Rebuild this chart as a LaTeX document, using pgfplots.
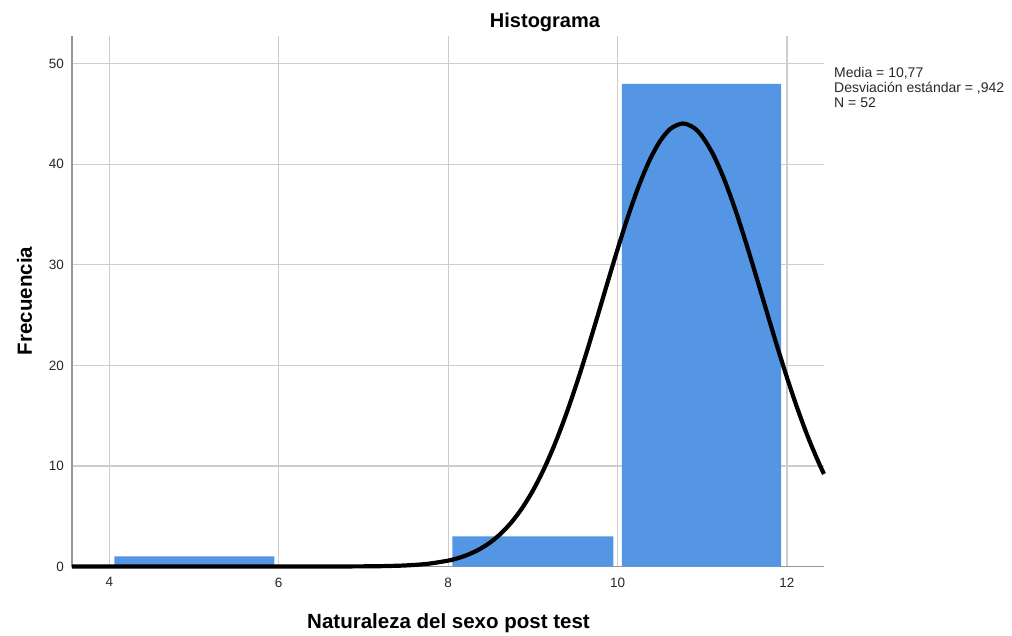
\documentclass[border=0pt]{standalone}
\usepackage{fontspec}
\setmainfont{Liberation Sans}
\usepackage{pgfplots}
\pgfplotsset{compat=1.18}
\definecolor{barblue}{RGB}{84,149,228}
\definecolor{gridgray}{RGB}{205,205,205}
\definecolor{axgray}{RGB}{150,150,150}
\definecolor{txt}{RGB}{40,40,40}
\begin{document}
\begin{tikzpicture}[x=1pt,y=1pt]
\path[use as bounding box] (-72,-68.5) rectangle (940,566.5);
\begin{axis}[
  at={(0,0)}, anchor=south west,
  scale only axis, width=752pt, height=530pt,
  xmin=3.56, xmax=12.437, ymin=0, ymax=52.7,
  axis x line=bottom, axis y line=left,
  axis line style={-, draw=axgray, line width=1.4pt},
  xtick={4,6,8,10,12}, ytick={0,10,20,30,40,50},
  major tick length=0pt,
  grid=major, major grid style={draw=gridgray, line width=1.2pt},
  /pgf/number format/assume math mode=true,
  xticklabel style={font=\fontsize{13.5}{15}\selectfont, text=txt, anchor=north, inner sep=0pt, yshift=-11pt},
  yticklabel style={font=\fontsize{13.5}{15}\selectfont, text=txt, anchor=east, inner sep=0pt, xshift=-8pt},
  clip=false,
]
\addplot[draw=none, fill=barblue] coordinates {(4.06,0) (4.06,1) (5.95,1) (5.95,0)} \closedcycle;
\addplot[draw=none, fill=barblue] coordinates {(8.05,0) (8.05,3) (9.95,3) (9.95,0)} \closedcycle;
\addplot[draw=none, fill=barblue] coordinates {(10.05,0) (10.05,48) (11.93,48) (11.93,0)} \closedcycle;
\addplot[black, line width=4.2pt, smooth, line join=round] coordinates {
(3.56,0) (6,0) (6.5,0.002) (7,0.015) (7.25,0.041) (7.5,0.107) (7.75,0.258)
(8,0.584) (8.125,0.855) (8.25,1.23) (8.375,1.739) (8.5,2.415) (8.625,3.296)
(8.75,4.42) (8.875,5.824) (9,7.539) (9.125,9.589) (9.25,11.984) (9.375,14.714)
(9.5,17.752) (9.625,21.04) (9.75,24.51) (9.875,28.05) (10,31.54) (10.125,34.85)
(10.25,37.825) (10.375,40.34) (10.5,42.277) (10.625,43.53) (10.77,44.05)
(10.9,43.63) (11,42.756) (11.125,41.03) (11.25,38.687) (11.375,35.84)
(11.5,32.623) (11.625,29.18) (11.75,25.64) (11.875,22.14) (12,18.781)
(12.125,15.66) (12.25,12.821) (12.375,10.318) (12.437,9.20)};
\end{axis}
\node[anchor=base, font=\fontsize{20}{22}\selectfont\bfseries, text=black] at (473,539) {Histograma};
\node[anchor=base, font=\fontsize{20.5}{22}\selectfont\bfseries, text=black] at (376.5,-61.5) {Naturaleza del sexo post test};
\node[anchor=base, rotate=90, font=\fontsize{20.5}{22}\selectfont\bfseries, text=black] at (-40,265.5) {Frecuencia};
\node[anchor=base west, inner sep=0pt, font=\fontsize{14}{15}\selectfont, text=txt] at (762,488.5) {Media = 10,77};
\node[anchor=base west, inner sep=0pt, font=\fontsize{14}{15}\selectfont, text=txt] at (762,473.5) {Desviación estándar = ,942};
\node[anchor=base west, inner sep=0pt, font=\fontsize{14}{15}\selectfont, text=txt] at (762,458.5) {N = 52};
\end{tikzpicture}
\end{document}
